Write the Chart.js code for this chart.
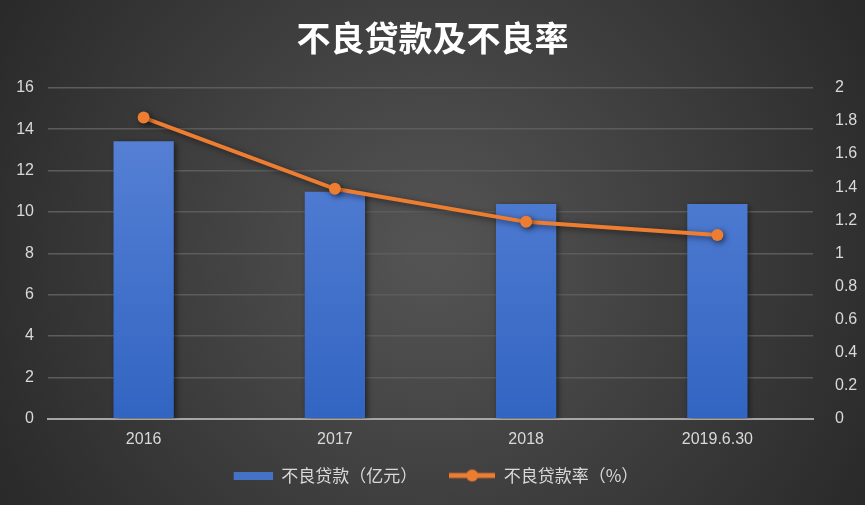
<!DOCTYPE html>
<html>
<head>
<meta charset="utf-8">
<script src="https://cdn.jsdelivr.net/npm/chart.js@4/dist/chart.umd.min.js"></script>
<style>
  html, body { margin: 0; padding: 0; background: #333; }
  #wrap { width: 865px; height: 505px; position: relative; }
</style>
</head>
<body>
<div id="wrap"><canvas id="c" width="865" height="505"></canvas></div>
<script>
const years = ['2016', '2017', '2018', '2019.6.30'];
const loans = [13.42, 10.98, 10.38, 10.38];       // 不良贷款（亿元）
const ratio = [1.82, 1.39, 1.19, 1.11];            // 不良贷款率（%）
const leftTicks = [0, 2, 4, 6, 8, 10, 12, 14, 16];
const rightTicks = [0, 0.2, 0.4, 0.6, 0.8, 1, 1.2, 1.4, 1.6, 1.8, 2];

const cjk = "'Noto Sans CJK SC', 'Noto Sans', sans-serif";
const num = "'Liberation Sans', Arial, sans-serif";

// legend swatches
function swatchBar(){
  const c = document.createElement('canvas');
  c.width = 46; c.height = 8;
  const g = c.getContext('2d');
  g.fillStyle = '#4472c4';
  g.fillRect(7, 0, 39, 8);
  return c;
}
function swatchLine(){
  const c = document.createElement('canvas');
  c.width = 46; c.height = 14;
  const g = c.getContext('2d');
  g.strokeStyle = '#ed7d31'; g.lineWidth = 5;
  g.beginPath(); g.moveTo(0, 7); g.lineTo(46, 7); g.stroke();
  g.fillStyle = '#ed7d31';
  g.beginPath(); g.arc(23, 7, 6, 0, Math.PI*2); g.fill();
  return c;
}

const bgPlugin = {
  id: 'bg',
  beforeDraw(chart){
    const {ctx, width, height} = chart;
    const g = ctx.createRadialGradient(width/2, height/2, 20, width/2, height/2, width*0.62);
    g.addColorStop(0, '#535353');
    g.addColorStop(1, '#262626');
    ctx.save();
    ctx.fillStyle = g;
    ctx.fillRect(0, 0, width, height);
    ctx.restore();
  }
};

const shadowPlugin = {
  id: 'shadow',
  beforeDatasetDraw(chart){
    const ctx = chart.ctx;
    ctx.save();
    ctx.shadowColor = 'rgba(0,0,0,0.55)';
    ctx.shadowBlur = 6;
    ctx.shadowOffsetX = 2;
    ctx.shadowOffsetY = 2;
  },
  afterDatasetDraw(chart){ chart.ctx.restore(); }
};

function barFill(context){
  const area = context.chart.chartArea;
  if(!area) return '#4472c4';
  const g = context.chart.ctx.createLinearGradient(0, area.top, 0, area.bottom);
  g.addColorStop(0, '#5b84d8');
  g.addColorStop(1, '#3265c2');
  return g;
}

new Chart(document.getElementById('c'), {
  type: 'bar',
  data: {
    labels: years,
    datasets: [
      {
        type: 'line',
        label: '不良贷款率（%）',
        data: ratio,
        yAxisID: 'y1',
        borderColor: '#ed7d31',
        backgroundColor: '#ed7d31',
        borderWidth: 4,
        pointRadius: 6,
        pointHoverRadius: 6,
        pointBackgroundColor: '#ed7d31',
        pointBorderWidth: 0,
        pointStyle: 'circle',
        tension: 0,
        order: 0
      },
      {
        label: '不良贷款（亿元）',
        data: loans,
        yAxisID: 'y',
        backgroundColor: barFill,
        barPercentage: 0.63,
        categoryPercentage: 0.5,
        order: 1
      }
    ]
  },
  options: {
    responsive: false,
    animation: false,
    layout: { padding: { top: 0, left: 0, right: 0, bottom: 11 } },
    plugins: {
      title: {
        display: true,
        text: '不良贷款及不良率',
        color: '#ffffff',
        font: { family: cjk, size: 34, weight: 'bold' },
        padding: { top: 18, bottom: 29 }
      },
      legend: {
        position: 'bottom',
        labels: {
          color: '#d9d9d9',
          font: { family: cjk, size: 17 },
          usePointStyle: true,
          pointStyleWidth: 46,
          padding: 15,
          generateLabels(chart){
            return [
              { text: '不良贷款（亿元）\u3000\u2002', pointStyle: swatchBar(), fontColor: '#d9d9d9', datasetIndex: 1, lineWidth: 0, strokeStyle: 'transparent', fillStyle: 'transparent' },
              { text: '不良贷款率（%）', pointStyle: swatchLine(), fontColor: '#d9d9d9', datasetIndex: 0, lineWidth: 0, strokeStyle: 'transparent', fillStyle: 'transparent' }
            ];
          }
        }
      },
      tooltip: { enabled: false }
    },
    scales: {
      x: {
        grid: { display: false },
        border: { display: true, color: '#a6a6a6', width: 2 },
        ticks: { color: '#d9d9d9', font: { family: num, size: 16 }, padding: 3 }
      },
      y: {
        position: 'left',
        min: 0, max: 16,
        afterBuildTicks(axis){ axis.ticks = leftTicks.map(v => ({ value: v })); },
        afterFit(axis){ axis.width = 48; },
        grid: { color: '#5c5c5c', lineWidth: 1.5, drawTicks: false },
        border: { display: false },
        ticks: { color: '#d9d9d9', font: { family: num, size: 16 }, padding: 14 }
      },
      y1: {
        position: 'right',
        min: 0, max: 2,
        afterBuildTicks(axis){ axis.ticks = rightTicks.map(v => ({ value: v })); },
        afterFit(axis){ axis.width = 52; },
        grid: { display: false },
        border: { display: false },
        ticks: {
          color: '#d9d9d9', font: { family: num, size: 16 }, padding: 14,
          callback: v => String(Math.round(v * 10) / 10)
        }
      }
    }
  },
  plugins: [bgPlugin, shadowPlugin]
});
</script>
</body>
</html>
